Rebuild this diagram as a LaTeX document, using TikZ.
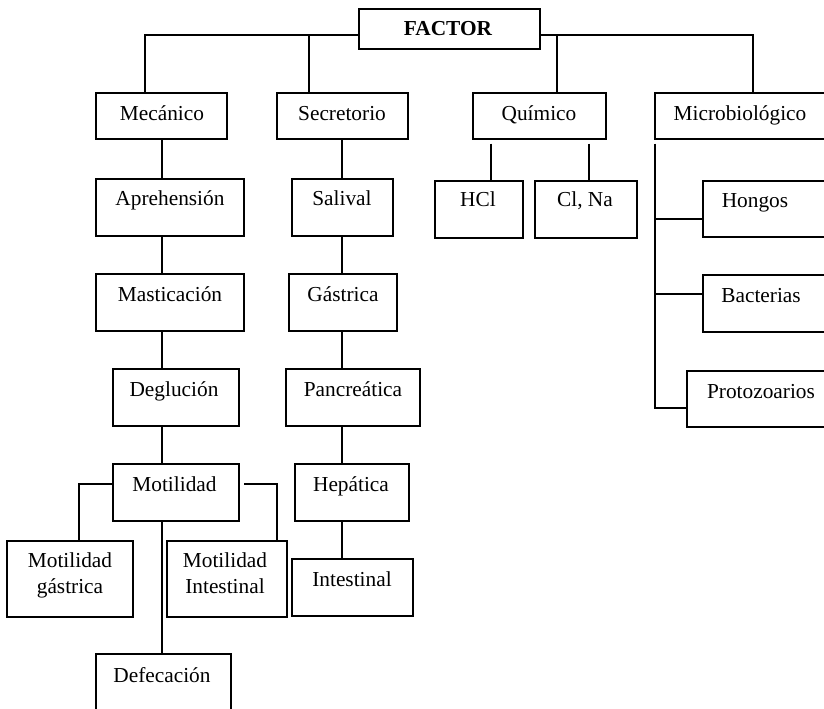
\documentclass[tikz,border=0pt]{standalone}
\usepackage{fontspec}
\setmainfont{Liberation Serif}
\usetikzlibrary{fit}
\begin{document}
\begin{tikzpicture}[x=0.75pt,y=-0.75pt,
  box/.style={draw, line width=0.9pt, inner sep=0pt, rectangle},
  lbl/.style={anchor=base, inner sep=0pt, font=\fontsize{16}{19.5}\selectfont, align=center},
  con/.style={line width=0.9pt},
  gap/.style={con, shorten <=3pt}]
\useasboundingbox (0,0) rectangle (824,709);
\clip (0,0) rectangle (824,709);
\fill[white] (0,0) rectangle (824,709);

% ---- boxes ----
\node[box, fit={(359,9) (540,49)}] (factor) {};
\node[lbl, font=\fontsize{16}{19.5}\selectfont\bfseries] at (448,36) {FACTOR};

\node[box, fit={(96,93) (227,139)}] (mec) {};
\node[lbl] at (162,121) {Mecánico};
\node[box, fit={(277,93) (408,139)}] (sec) {};
\node[lbl] at (342,121) {Secretorio};
\node[box, fit={(473,93) (606,139)}] (qui) {};
\node[lbl] at (539,121) {Químico};
\node[box, fit={(655,93) (834,139)}] (mic) {};
\node[lbl] at (740,121) {Microbiológico};

% Mecánico column
\node[box, fit={(96,179) (244,236)}] (apr) {};
\node[lbl] at (170,206) {Aprehensión};
\node[box, fit={(96,274) (244,331)}] (mas) {};
\node[lbl] at (170,301) {Masticación};
\node[box, fit={(113,369) (239,426)}] (deg) {};
\node[lbl] at (174,396) {Deglución};
\node[box, fit={(113,464) (239,521)}] (mot) {};
\node[lbl] at (174.5,491) {Motilidad};
\node[box, fit={(7,541) (133,617)}] (mg) {};
\node[lbl] at (70,593) {Motilidad\\gástrica};
\node[box, fit={(167,541) (287,617)}] (mi) {};
\node[lbl] at (225,593) {Motilidad\\Intestinal};
\node[box, fit={(96,654) (231,725)}] (def) {};
\node[lbl] at (162,682) {Defecación};

% Secretorio column
\node[box, fit={(292,179) (393,236)}] (sal) {};
\node[lbl] at (342,206) {Salival};
\node[box, fit={(289,274) (397,331)}] (gas) {};
\node[lbl] at (343,301) {Gástrica};
\node[box, fit={(286,369) (420,426)}] (pan) {};
\node[lbl] at (353,396) {Pancreática};
\node[box, fit={(295,464) (409,521)}] (hep) {};
\node[lbl] at (351,491) {Hepática};
\node[box, fit={(292,559) (413,616)}] (int) {};
\node[lbl] at (352,586) {Intestinal};

% Químico children
\node[box, fit={(435,181) (523,238)}] (hcl) {};
\node[lbl] at (478,207) {HCl};
\node[box, fit={(535,181) (637,238)}] (clna) {};
\node[lbl] at (585,207) {Cl, Na};

% Microbiológico children
\node[box, fit={(703,181) (834,237)}] (hon) {};
\node[lbl] at (755,208) {Hongos};
\node[box, fit={(703,275) (834,332)}] (bac) {};
\node[lbl] at (761,302) {Bacterias};
\node[box, fit={(687,371) (834,427)}] (pro) {};
\node[lbl] at (761,398) {Protozoarios};

% ---- connector coordinates ----
\coordinate (tL) at (145,35);
\coordinate (tS) at (309,35);
\coordinate (tQ) at (557,35);
\coordinate (tR) at (753,35);
\coordinate (cM) at (162,0);
\coordinate (cS) at (342,0);
\coordinate (cH) at (491,0);
\coordinate (cC) at (589,0);
\coordinate (vB) at (655,0);
\coordinate (mL) at (79,484);
\coordinate (mRs) at (244,484);
\coordinate (mR) at (277,484);
\coordinate (bH) at (655,219);
\coordinate (bB) at (655,294);
\coordinate (vEnd) at (655,408);

% ---- connectors ----
\draw[con] (tL -| factor.west) -- (tL) -- (tL |- mec.north);
\draw[con] (tS) -- (tS |- sec.north);
\draw[con] (tR -| factor.east) -- (tR) -- (tR |- mic.north);
\draw[con] (tQ) -- (tQ |- qui.north);

\draw[con] (cM |- mec.south) -- (cM |- apr.north);
\draw[con] (cM |- apr.south) -- (cM |- mas.north);
\draw[con] (cM |- mas.south) -- (cM |- deg.north);
\draw[con] (cM |- deg.south) -- (cM |- mot.north);
\draw[con] (cM |- mot.south) -- (cM |- def.north);
\draw[con] (mL -| mot.west) -- (mL) -- (mL |- mg.north);
\draw[con] (mRs) -- (mR) -- (mR |- mi.north);

\draw[con] (cS |- sec.south) -- (cS |- sal.north);
\draw[con] (cS |- sal.south) -- (cS |- gas.north);
\draw[con] (cS |- gas.south) -- (cS |- pan.north);
\draw[con] (cS |- pan.south) -- (cS |- hep.north);
\draw[con] (cS |- hep.south) -- (cS |- int.north);

\draw[gap] (cH |- qui.south) -- (cH |- hcl.north);
\draw[gap] (cC |- qui.south) -- (cC |- clna.north);

\draw[gap] (vB |- mic.south) -- (vEnd) -- (vEnd -| pro.west);
\draw[con] (bH) -- (bH -| hon.west);
\draw[con] (bB) -- (bB -| bac.west);
\end{tikzpicture}
\end{document}
